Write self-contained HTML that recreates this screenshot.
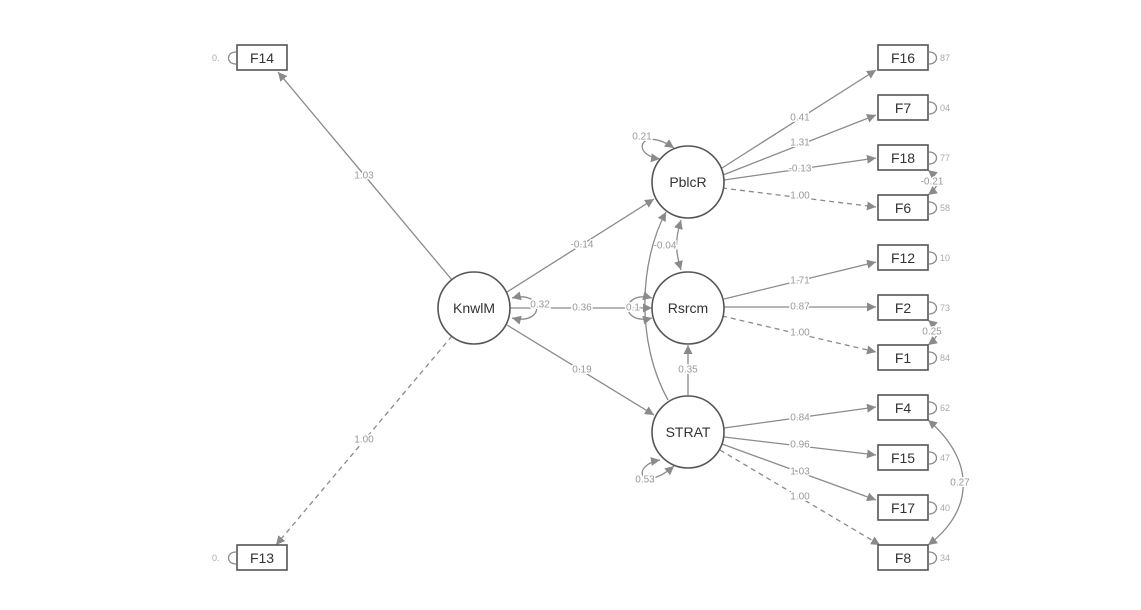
<!DOCTYPE html>
<html><head><meta charset="utf-8"><style>
html,body{margin:0;padding:0;background:#fff;}
svg{display:block;}
.l{stroke:#8a8a8a;stroke-width:1.3;fill:none;}
.d{stroke-dasharray:5,4;}
.n{stroke:#555;stroke-width:1.6;fill:#fff;}
.t{font-family:"Liberation Sans",sans-serif;font-size:14px;fill:#333;text-anchor:middle;dominant-baseline:central;}
.e{font-family:"Liberation Sans",sans-serif;font-size:10px;fill:#999;text-anchor:middle;dominant-baseline:central;paint-order:stroke;stroke:#fff;stroke-width:3px;}
.s{font-family:"Liberation Sans",sans-serif;font-size:9px;fill:#aaa;dominant-baseline:central;}
</style></head><body>
<svg width="1141" height="610" viewBox="0 0 1141 610" xmlns="http://www.w3.org/2000/svg">
<defs><marker id="a" viewBox="0 0 10 10" refX="10" refY="5" markerWidth="9" markerHeight="9" orient="auto-start-reverse" markerUnits="userSpaceOnUse"><path d="M0,0L10,5L0,10z" fill="#8a8a8a"/></marker></defs>

<!-- KnwlM to F14 / F13 -->
<line class="l" x1="452" y1="280" x2="278" y2="72" marker-end="url(#a)"/>
<text class="e" x="364" y="176">1.03</text>
<line class="l d" x1="452" y1="336" x2="276" y2="545" marker-end="url(#a)"/>
<text class="e" x="364" y="440">1.00</text>

<!-- KnwlM to latent -->
<line class="l" x1="507" y1="292" x2="654" y2="199" marker-end="url(#a)"/>
<text class="e" x="582" y="245">-0.14</text>
<line class="l" x1="510" y1="308" x2="652" y2="308" marker-end="url(#a)"/>
<text class="e" x="582" y="308">0.36</text>
<line class="l" x1="507" y1="325" x2="654" y2="415" marker-end="url(#a)"/>
<text class="e" x="582" y="370">0.19</text>

<!-- KnwlM self loop -->
<path class="l" d="M512,298 C545,290 545,326 512,318" marker-start="url(#a)" marker-end="url(#a)"/>
<text class="e" x="540" y="305">0.32</text>
<!-- Rsrcm self loop -->
<path class="l" d="M652,298 C620,290 620,326 652,318" marker-start="url(#a)" marker-end="url(#a)"/>
<text class="e" x="633" y="308">0.1</text>
<!-- PblcR self loop -->
<path class="l" d="M660,159 C630,155 640,125 674,148" marker-start="url(#a)" marker-end="url(#a)"/>
<text class="e" x="642" y="137">0.21</text>
<!-- STRAT self loop -->
<path class="l" d="M660,460 C630,465 640,495 674,466" marker-start="url(#a)" marker-end="url(#a)"/>
<text class="e" x="645" y="480">0.53</text>

<!-- PblcR-Rsrcm cov -->
<path class="l" d="M681,220 C675,240 675,250 681,270" marker-start="url(#a)" marker-end="url(#a)"/>
<text class="e" x="665" y="246">-0.04</text>
<!-- PblcR-STRAT cov -->
<path class="l" d="M668,400 C635,340 640,260 666,212" marker-end="url(#a)"/>
<!-- STRAT -> Rsrcm -->
<line class="l" x1="688" y1="396" x2="688" y2="345" marker-end="url(#a)"/>
<text class="e" x="688" y="370">0.35</text>

<!-- PblcR indicators -->
<line class="l" x1="722" y1="168" x2="876" y2="70" marker-end="url(#a)"/>
<text class="e" x="800" y="118">0.41</text>
<line class="l" x1="723" y1="175" x2="876" y2="115" marker-end="url(#a)"/>
<text class="e" x="800" y="143">1.31</text>
<line class="l" x1="724" y1="180" x2="876" y2="158" marker-end="url(#a)"/>
<text class="e" x="800" y="169">-0.13</text>
<line class="l d" x1="722" y1="188" x2="876" y2="207" marker-end="url(#a)"/>
<text class="e" x="800" y="196">1.00</text>
<!-- Rsrcm -->
<line class="l" x1="724" y1="299" x2="876" y2="262" marker-end="url(#a)"/>
<text class="e" x="800" y="281">1.71</text>
<line class="l" x1="724" y1="307" x2="876" y2="307" marker-end="url(#a)"/>
<text class="e" x="800" y="307">0.87</text>
<line class="l d" x1="722" y1="316" x2="876" y2="352" marker-end="url(#a)"/>
<text class="e" x="800" y="333">1.00</text>
<!-- STRAT -->
<line class="l" x1="724" y1="428" x2="876" y2="407" marker-end="url(#a)"/>
<text class="e" x="800" y="418">0.84</text>
<line class="l" x1="724" y1="437" x2="876" y2="455" marker-end="url(#a)"/>
<text class="e" x="800" y="445">0.96</text>
<line class="l" x1="722" y1="444" x2="876" y2="500" marker-end="url(#a)"/>
<text class="e" x="800" y="472">1.03</text>
<line class="l d" x1="720" y1="450" x2="880" y2="545" marker-end="url(#a)"/>
<text class="e" x="800" y="497">1.00</text>

<!-- cov between F4 & F8 -->
<path class="l" d="M928,420 C975,460 975,510 928,545" marker-start="url(#a)" marker-end="url(#a)"/>
<text class="e" x="960" y="483">0.27</text>
<!-- cov F18-F6 -->
<path class="l" d="M928,170 C940,180 940,186 928,195" marker-start="url(#a)" marker-end="url(#a)"/>
<text class="e" x="932" y="182">-0.21</text>
<!-- cov F2-F1 -->
<path class="l" d="M928,320 C940,330 940,336 928,345" marker-start="url(#a)" marker-end="url(#a)"/>
<text class="e" x="932" y="332">0.25</text>

<!-- circles -->
<circle class="n" cx="474" cy="308" r="36"/><text class="t" x="474" y="308">KnwlM</text>
<circle class="n" cx="688" cy="182" r="36"/><text class="t" x="688" y="182">PblcR</text>
<circle class="n" cx="688" cy="308" r="36"/><text class="t" x="688" y="308">Rsrcm</text>
<circle class="n" cx="688" cy="432" r="36"/><text class="t" x="688" y="432">STRAT</text>

<!-- boxes -->
<g>
<rect class="n" x="237" y="45" width="50" height="25"/><text class="t" x="262" y="58">F14</text>
<text class="s" x="212" y="58">0.</text><path class="l" d="M236,52 C226,52 226,64 236,64"/>
<rect class="n" x="237" y="545" width="50" height="25"/><text class="t" x="262" y="558">F13</text>
<text class="s" x="212" y="558">0.</text><path class="l" d="M236,552 C226,552 226,564 236,564"/>
</g>
<g id="rb">
<rect class="n" x="878" y="45" width="50" height="25"/><text class="t" x="903" y="58">F16</text><text class="s" x="940" y="58">87</text>
<rect class="n" x="878" y="95" width="50" height="25"/><text class="t" x="903" y="108">F7</text><text class="s" x="940" y="108">04</text>
<rect class="n" x="878" y="145" width="50" height="25"/><text class="t" x="903" y="158">F18</text><text class="s" x="940" y="158">77</text>
<rect class="n" x="878" y="195" width="50" height="25"/><text class="t" x="903" y="208">F6</text><text class="s" x="940" y="208">58</text>
<rect class="n" x="878" y="245" width="50" height="25"/><text class="t" x="903" y="258">F12</text><text class="s" x="940" y="258">10</text>
<rect class="n" x="878" y="295" width="50" height="25"/><text class="t" x="903" y="308">F2</text><text class="s" x="940" y="308">73</text>
<rect class="n" x="878" y="345" width="50" height="25"/><text class="t" x="903" y="358">F1</text><text class="s" x="940" y="358">84</text>
<rect class="n" x="878" y="395" width="50" height="25"/><text class="t" x="903" y="408">F4</text><text class="s" x="940" y="408">62</text>
<rect class="n" x="878" y="445" width="50" height="25"/><text class="t" x="903" y="458">F15</text><text class="s" x="940" y="458">47</text>
<rect class="n" x="878" y="495" width="50" height="25"/><text class="t" x="903" y="508">F17</text><text class="s" x="940" y="508">40</text>
<rect class="n" x="878" y="545" width="50" height="25"/><text class="t" x="903" y="558">F8</text><text class="s" x="940" y="558">34</text>
</g>
<g class="l">
<path d="M929,52 C939,52 939,64 929,64"/><path d="M929,102 C939,102 939,114 929,114"/>
<path d="M929,152 C939,152 939,164 929,164"/><path d="M929,202 C939,202 939,214 929,214"/>
<path d="M929,252 C939,252 939,264 929,264"/><path d="M929,302 C939,302 939,314 929,314"/>
<path d="M929,352 C939,352 939,364 929,364"/><path d="M929,402 C939,402 939,414 929,414"/>
<path d="M929,452 C939,452 939,464 929,464"/><path d="M929,502 C939,502 939,514 929,514"/>
<path d="M929,552 C939,552 939,564 929,564"/>
</g>
</svg>
</body></html>
